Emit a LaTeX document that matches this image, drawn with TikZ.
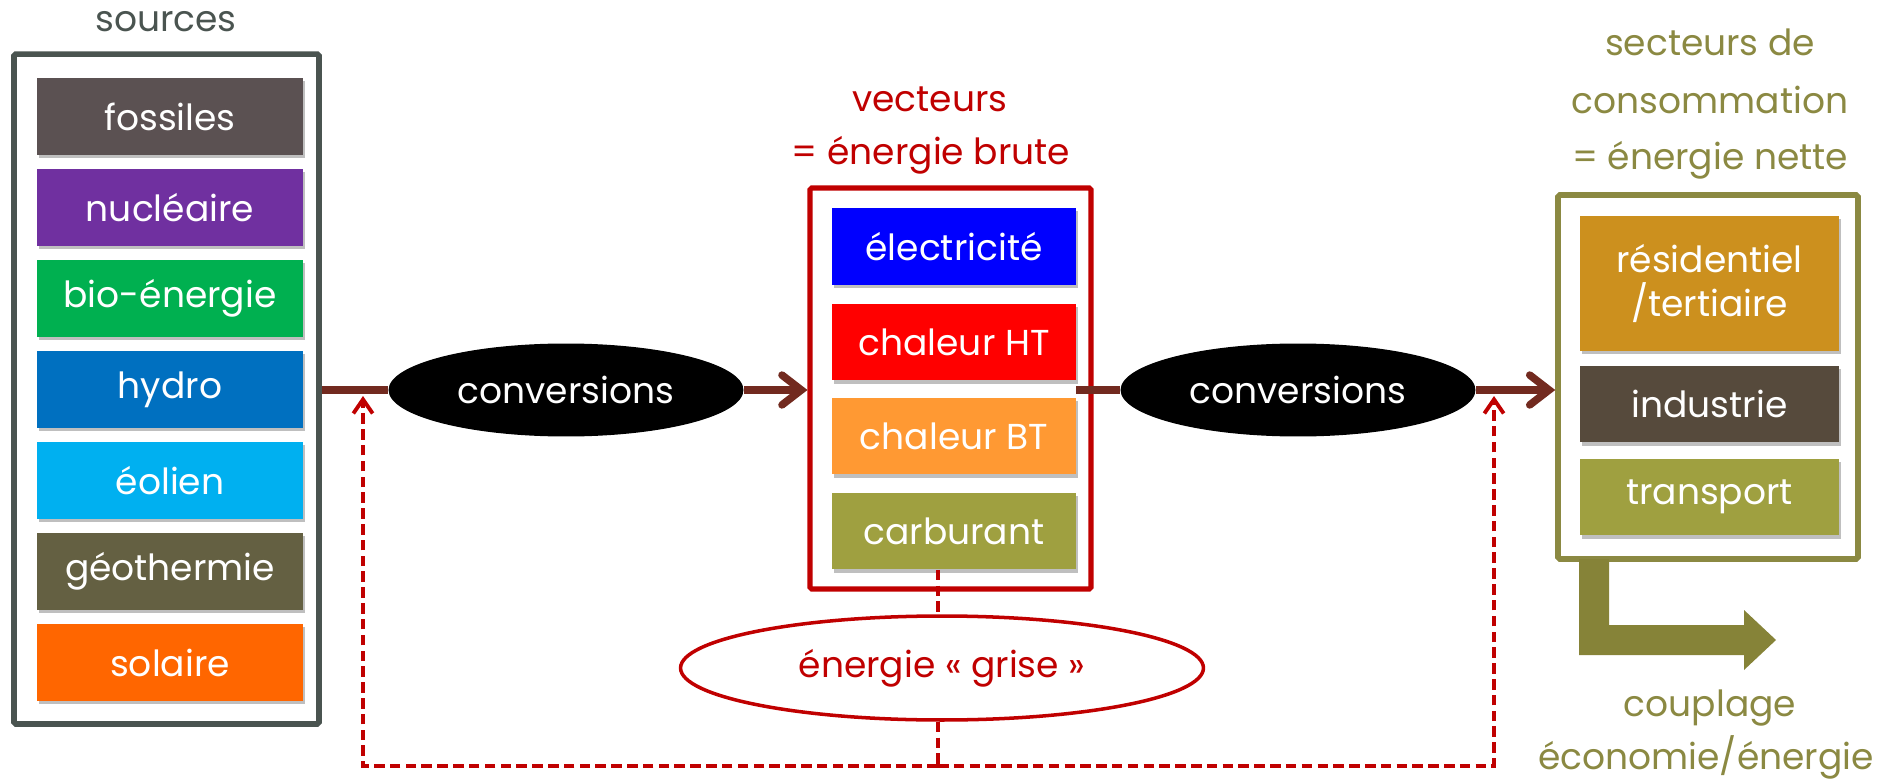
\documentclass[tikz,border=0pt]{standalone}
\usepackage{fontspec}
\setmainfont{Poppins}
\usetikzlibrary{arrows.meta}
\usetikzlibrary{shapes.geometric}
\usetikzlibrary{shadows}
\definecolor{cframe}{RGB}{74,84,80}
\definecolor{cflow}{RGB}{114,42,31}
\definecolor{cred}{RGB}{192,0,0}
\definecolor{colive}{RGB}{139,137,66}
\definecolor{cfoss}{RGB}{91,81,82}
\definecolor{cnucl}{RGB}{112,48,160}
\definecolor{cbio}{RGB}{0,176,80}
\definecolor{chydro}{RGB}{0,112,192}
\definecolor{ceol}{RGB}{0,176,240}
\definecolor{cgeo}{RGB}{100,96,66}
\definecolor{csol}{RGB}{255,102,0}
\definecolor{celec}{RGB}{0,0,255}
\definecolor{cht}{RGB}{255,0,0}
\definecolor{cbt}{RGB}{255,153,51}
\definecolor{ccarb}{RGB}{159,160,64}
\definecolor{cres}{RGB}{204,144,30}
\definecolor{cind}{RGB}{86,74,60}
\definecolor{ctrans}{RGB}{159,160,64}
\definecolor{cbent}{RGB}{134,131,56}
\tikzset{
  every node/.style={font=\fontsize{20.5}{25}\selectfont},
  pbox/.style={rectangle, text=white, inner sep=0pt, minimum height=1.54cm,
    drop shadow={shadow xshift=1pt, shadow yshift=-1.8pt, fill=black, opacity=0.25}},
  srcbox/.style={pbox, minimum width=5.32cm},
  vecbox/.style={pbox, minimum width=4.88cm},
  secbox/.style={pbox, minimum width=5.18cm, align=center},
  frame/.style={draw, line width=3.2pt, rounded corners=1pt, inner sep=0pt, fill=white},
  conv/.style={ellipse, fill=black, text=white, inner sep=0pt,
    minimum width=7.1cm, minimum height=1.86cm},
  flow/.style={draw=cflow, line width=4.3pt},
  recyc/.style={draw=cred, line width=2.2pt, dash pattern=on 6pt off 3pt},
}

\begin{document}
\begin{tikzpicture}[x=0.02cm, y=0.02cm]
\useasboundingbox (0,0) rectangle (1889,782);
% sources
\node at (166,760) [text=cframe] (srclab) {sources};
\node at (166.5,393) [frame, draw=cframe, minimum width=6.1cm, minimum height=13.4cm] (src) {};
\node at (170,665.5) [srcbox, fill=cfoss] (fos) {fossiles};
\node at (170,574.5) [srcbox, fill=cnucl] (nuc) {nucléaire};
\node at (170,483.5) [srcbox, fill=cbio] (bio) {bio-énergie};
\node at (170,392.5) [srcbox, fill=chydro] (hyd) {hydro};
\node at (170,301.5) [srcbox, fill=ceol] (eol) {éolien};
\node at (170,210.5) [srcbox, fill=cgeo] (geo) {géothermie};
\node at (170,119.5) [srcbox, fill=csol] (sol) {solaire};
% vecteurs
\node at (930,683) [text=cred] (veclab) {vecteurs};
\node at (931,627) [text=cred] (veclabb) {= énergie brute};
\node at (950.5,393.5) [frame, draw=cred, line width=2.9pt, minimum width=5.62cm, minimum height=8.02cm] (vec) {};
\node at (954,535.5) [vecbox, fill=celec] (elec) {électricité};
\node at (954,440) [vecbox, fill=cht] (cht) {chaleur HT};
\node at (954,346) [vecbox, fill=cbt] (cbt) {chaleur BT};
\node at (954,251) [vecbox, fill=ccarb] (carb) {carburant};
% conversions
\node at (566,392) [conv] (conv1) {conversions};
\node at (1298,392) [conv] (conv2) {conversions};
\draw[flow] (src.east |- conv1) -- (conv1.west);
\draw[flow, -{Straight Barb[length=11pt, width=17pt, line cap=round]}] (conv1.east) -- (vec.west |- conv1);
\draw[flow] (cht.east |- conv2) -- (conv2.west);
% secteurs
\node at (1710,740) [text=colive] (seclab) {secteurs de};
\node at (1710,682) [text=colive] (seclabb) {consommation};
\node at (1710,622) [text=colive] (seclabc) {= énergie nette};
\node at (1708,405) [frame, draw=colive, minimum width=6cm, minimum height=7.28cm] (sect) {};
\node at (1709.5,498.5) [secbox, fill=cres, minimum height=2.7cm] (res) {résidentiel\\/tertiaire};
\node at (1709.5,378) [secbox, fill=cind] (ind) {industrie};
\node at (1709.5,285) [secbox, fill=ctrans] (tra) {transport};
\draw[flow, -{Straight Barb[length=11pt, width=17pt, line cap=round]}] (conv2.east) -- (sect.west |- conv2);
% couplage
\fill[cbent] (1579,223) -- (1609,223) -- (1609,157) -- (1744,157) -- (1744,172)
  -- (1776,142) -- (1744,112) -- (1744,127) -- (1579,127) -- cycle;
\node at (1710,74) [text=colive] (coup) {couplage};
\node at (1706,25) [text=colive] (coupb) {économie/énergie};
% energie grise
\node at (942,114) [ellipse, draw=cred, line width=2pt, text=cred, inner sep=0pt,
  minimum width=10.46cm, minimum height=2.08cm] (grise) {énergie « grise »};
\coordinate (gb) at (938,16);
\coordinate (gl) at (363,16);
\coordinate (gr) at (1494,16);
\coordinate (tl) at (363,386);
\coordinate (tr) at (1494,386);
\draw[recyc] (carb.south -| gb) -- (grise.north -| gb);
\draw[recyc] (grise.south -| gb) -- (gb);
\draw[recyc, -{Straight Barb[length=8pt, width=11pt]}] (gb) -- (gl) -- (tl);
\draw[recyc, -{Straight Barb[length=8pt, width=11pt]}] (gb) -- (gr) -- (tr);
\end{tikzpicture}
\end{document}
